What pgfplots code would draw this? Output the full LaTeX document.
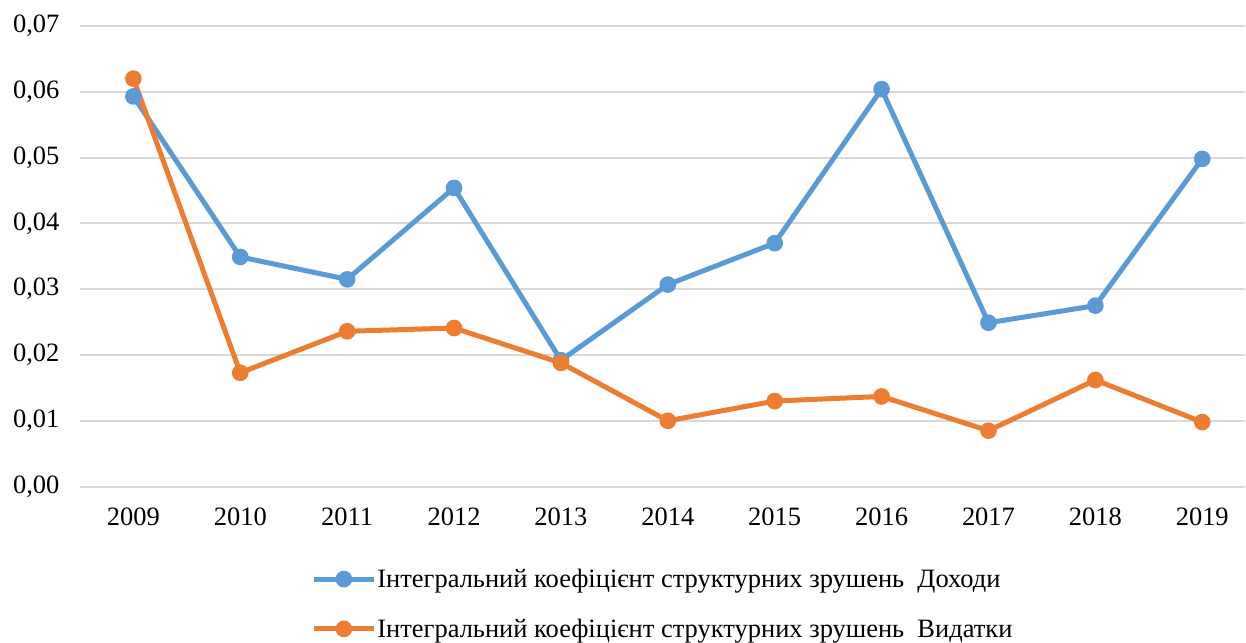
\documentclass[border=0pt]{standalone}
\usepackage{pgfplots}
\pgfplotsset{compat=1.18}
\usepackage{fontspec}
\setmainfont{Liberation Serif}
\definecolor{dohody}{HTML}{5B9BD5}
\definecolor{vydatky}{HTML}{ED7D31}
\definecolor{gridgray}{HTML}{D9D9D9}

\pgfplotstableread{
x  dohody  vydatky
0  0.0593  0.0620
1  0.0349  0.0173
2  0.0315  0.0236
3  0.0454  0.0241
4  0.0192  0.0188
5  0.0307  0.0100
6  0.0370  0.0130
7  0.0604  0.0137
8  0.0249  0.0085
9  0.0275  0.0162
10 0.0498  0.0098
}\data

\begin{document}
\begin{tikzpicture}
\begin{axis}[
  scale only axis, width=1166pt, height=461pt,
  xmin=-0.5, xmax=10.4, ymin=0, ymax=0.07,
  axis line style={draw=none},
  xtick={0,...,10},
  xticklabels={2009,2010,2011,2012,2013,2014,2015,2016,2017,2018,2019},
  ytick={0,0.01,...,0.07},
  major tick length=0pt,
  ymajorgrids, grid style={gridgray, line width=2pt},
  font=\fontsize{26.5}{30}\selectfont,
  /pgf/number format/assume math mode=true,
  yticklabel style={/tikz/xshift=-17pt, /pgf/number format/.cd, fixed, fixed zerofill, precision=2, use comma},
  scaled y ticks=false,
  xticklabel style={yshift=-18pt},
  legend style={at={(0.5,-0.17)}, anchor=north, draw=none, legend columns=1,
    row sep=26pt, font=\fontsize{26.5}{30}\selectfont,
    nodes={inner xsep=1pt}},
  legend cell align=left,
  legend image code/.code={
    \draw[#1, mark repeat=2, mark phase=2] plot coordinates {(0pt,0pt) (30pt,0pt) (60pt,0pt)};},
]
\addplot[dohody, line width=5pt, mark=*, mark size=5.8pt, mark options={solid}] table[x=x,y=dohody]{\data};
\addlegendentry{Інтегральний коефіцієнт структурних зрушень\ \ Доходи}
\addplot[vydatky, line width=5pt, mark=*, mark size=5.8pt, mark options={solid}] table[x=x,y=vydatky]{\data};
\addlegendentry{Інтегральний коефіцієнт структурних зрушень\ \ Видатки}
\end{axis}
\path (current axis.south west) ++(-80pt,-155pt) rectangle ++(1246pt,642pt);
\end{tikzpicture}
\end{document}
